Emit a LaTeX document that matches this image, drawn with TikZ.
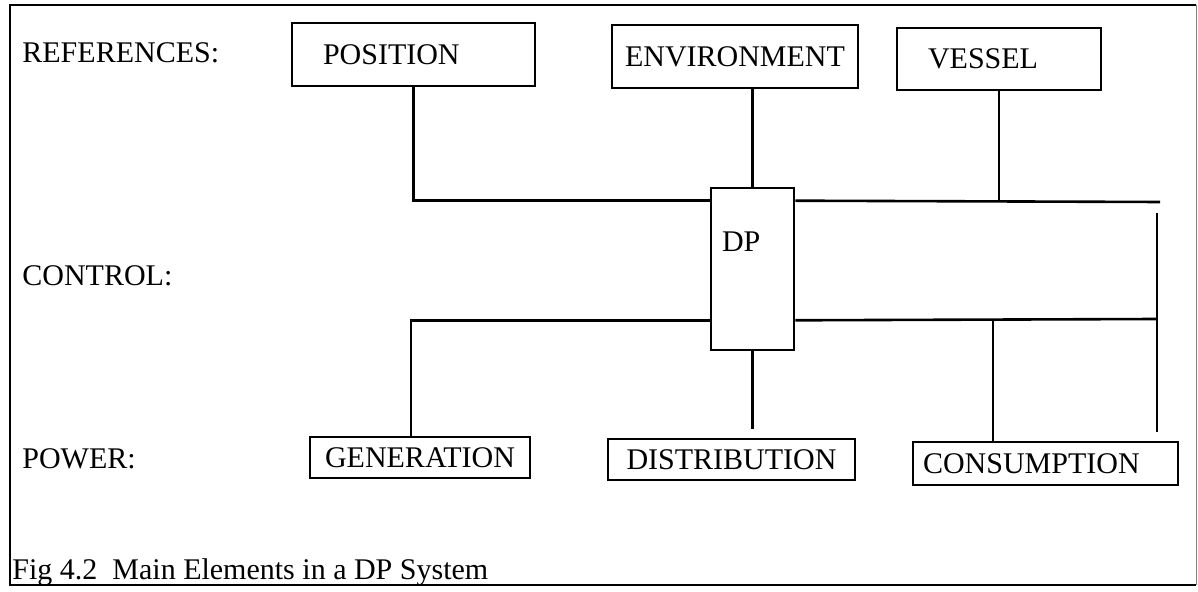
\documentclass[tikz,border=0pt]{standalone}
\usepackage{fontspec}
\setmainfont{Liberation Serif}
\begin{document}
\begin{tikzpicture}[x=0.5pt,y=-0.5pt,
  every node/.style={font=\fontsize{15pt}{18pt}\selectfont, inner sep=0pt},
  box/.style={draw, line width=1.3pt, rectangle},
  link/.style={line width=1.3pt},
  frameline/.style={line width=1.1pt}]
\useasboundingbox (0,0) rectangle (1198,592);
% frame
\draw[frameline] (1196,5) -- (10,5) -- (10,585) -- (1196,585);
\draw[gray, line width=0.5pt] (1196,5) -- (1196,585);
% row labels
\node[anchor=base west] (lref) at (22,63) {REFERENCES:};
\node[anchor=base west] (lctl) at (22,286) {CONTROL:};
\node[anchor=base west] (lpow) at (22,469) {POWER:};
\node[anchor=base west] (cap) at (12,579) {Fig 4.2\ \ Main Elements in a DP System};
% boxes
\node[box, minimum width=121.5pt, minimum height=31.5pt, text width=90.5pt, inner xsep=15.5pt, align=left] (pos) at (413.5,54.5) {POSITION};
\node[box, minimum width=123pt, minimum height=31.5pt] (env) at (735,56.5) {ENVIRONMENT};
\node[box, minimum width=102pt, minimum height=31pt, text width=71pt, inner xsep=15.5pt, align=left] (ves) at (999,59) {VESSEL};
\node[box, minimum width=41.5pt, text width=30.5pt, inner xsep=5.5pt, text height=32pt, text depth=49pt, align=left] (dp) at (752.5,269) {DP};
\node[box, minimum width=110pt, minimum height=20.5pt] (gen) at (420,457.5) {GENERATION};
\node[box, minimum width=123.5pt, minimum height=20.5pt] (dist) at (731.5,459.5) {DISTRIBUTION};
\node[box, minimum width=132.5pt, minimum height=21.5pt, text width=122.5pt, inner xsep=5pt, align=left] (cons) at (1045.5,463.5) {CONSUMPTION};
% junction coordinates
\coordinate (tEnd) at (1160,202);
\coordinate (rvTop) at (1157,213);
\coordinate (rvMid) at (1157,319);
\coordinate (gj) at ([xshift=-4.5pt]gen.north);
\coordinate (cj) at ([xshift=-26.25pt]cons.north);
% connectors
\draw[link] (pos.south) |- ([yshift=-7pt]dp.north west);
\draw[link] (dp.north) -- (dp.north |- env.south);
\draw[link] ([yshift=-7pt]dp.north east) -- (tEnd);
\draw[link] (ves.south) -- (ves.south |- tEnd);
\draw[link, shorten >=4.5pt] (rvTop) -- (rvTop |- cons.north);
\draw[link] ([yshift=15.5pt]dp.south east) -- (rvMid);
\draw[link] (cj) -- (cj |- rvMid);
\draw[link] ([yshift=15.5pt]dp.south west) -| (gj);
\draw[link, shorten >=4.5pt] (dp.south) -- (dp.south |- dist.north);
\end{tikzpicture}
\end{document}
